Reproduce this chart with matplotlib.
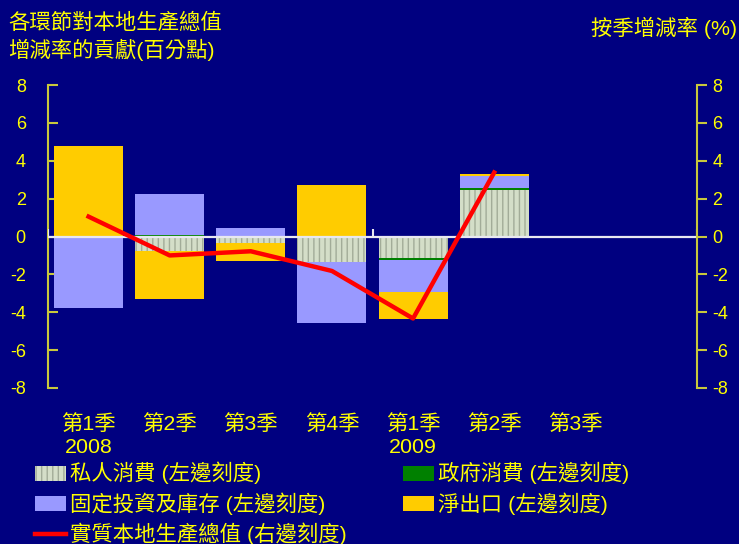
import numpy as np
import matplotlib
matplotlib.use('Agg')
import matplotlib.pyplot as plt

plt.rcParams['font.family'] = ['Liberation Sans', 'Noto Sans CJK TC', 'DejaVu Sans']
plt.rcParams['hatch.linewidth'] = 1.0
plt.rcParams['axes.unicode_minus'] = False

# 數據 (百分點 / %)
quarters = ['第1季\n2008', '第2季', '第3季', '第4季', '第1季\n2009', '第2季', '第3季', '']
private_cons = [0.0, -0.77, -0.33, -1.35, -1.13, 2.47]
gov_cons = [0.0, 0.08, 0.0, 0.05, -0.10, 0.07]
invest_stock = [-3.79, 2.18, 0.47, -3.21, -1.70, 0.63]
net_exports = [4.79, -2.53, -0.97, 2.68, -1.44, 0.15]
real_gdp = [1.05, -1.00, -0.78, -1.82, -4.33, 3.38]
year_starts = [0, 4]

bg = '#000080'
axis_col = '#C8C83C'
txt_col = '#FFFF00'
fs = 15.4

fig = plt.figure(figsize=(7.39, 5.44), dpi=100, facecolor=bg)
ax = fig.add_axes([48 / 739, 1 - 388 / 544, (697 - 48) / 739, (388 - 85) / 544])
ax.set_facecolor(bg)

x = np.arange(len(private_cons))
pos_base = np.zeros(len(x))
neg_base = np.zeros(len(x))
series = [
    (private_cons, dict(color='#D4DEC8', edgecolor='#A2AC98', hatch='|||', linewidth=0), '私人消費 (左邊刻度)'),
    (gov_cons, dict(color='#008000', linewidth=0), '政府消費 (左邊刻度)'),
    (invest_stock, dict(color='#9999FF', linewidth=0), '固定投資及庫存 (左邊刻度)'),
    (net_exports, dict(color='#FFCC00', linewidth=0), '淨出口 (左邊刻度)'),
]
handles = []
for vals, style, label in series:
    v = np.array(vals)
    bottom = np.where(v >= 0, pos_base, neg_base)
    b = ax.bar(x, v, width=0.85, bottom=bottom, label=label, zorder=2, **style)
    handles.append(b)
    pos_base = pos_base + np.where(v >= 0, v, 0)
    neg_base = neg_base + np.where(v < 0, v, 0)

ax.set_xlim(-0.5, len(quarters) - 0.5)
ax.set_ylim(-8, 8)
ax.axhline(0, color='#E8E8F0', lw=1.6, zorder=3)
for ys in year_starts + [len(quarters)]:
    ax.vlines(ys - 0.5, 0, 0.37, color='#E8E8F0', lw=1.5, zorder=3)

ax.set_xticks(np.arange(len(quarters)))
ax.set_xticklabels(quarters, fontsize=fs, color=txt_col)
for t in ax.get_xticklabels():
    t.set_linespacing(1.22)
ax.tick_params(axis='x', length=0, pad=19)
ax.set_yticks(np.arange(-8, 9, 2))
ax.tick_params(axis='y', direction='in', length=7, width=1.5, color=axis_col,
               labelcolor=txt_col, labelsize=13, pad=16)
for s in ['top', 'right', 'bottom']:
    ax.spines[s].set_visible(False)
ax.spines['left'].set_color(axis_col)
ax.spines['left'].set_linewidth(1.5)

ax2 = ax.twinx()
ax2.set_ylim(-8, 8)
ax2.set_yticks(np.arange(-8, 9, 2))
line, = ax2.plot(np.arange(len(real_gdp)), real_gdp, color='#FF0000', lw=3.2,
                 label='實質本地生產總值 (右邊刻度)', zorder=5)
ax2.tick_params(axis='y', direction='out', length=7, width=1.5, color=axis_col,
                labelcolor=txt_col, labelsize=13, pad=4)
for s in ['top', 'left', 'bottom']:
    ax2.spines[s].set_visible(False)
ax2.spines['right'].set_color(axis_col)
ax2.spines['right'].set_linewidth(1.5)

fig.text(8 / 739, 1 - 13 / 544, '各環節對本地生產總值', color=txt_col, fontsize=fs,
         ha='left', va='top')
fig.text(8 / 739, 1 - 39 / 544, '增減率的貢獻(百分點)', color=txt_col, fontsize=fs,
         ha='left', va='top')
fig.text(737 / 739, 1 - 28 / 544, '按季增減率 (%)', color=txt_col, fontsize=fs,
         ha='right', va='center')

leg_handles = [handles[0], handles[2], line, handles[1], handles[3]]
leg = fig.legend(handles=leg_handles, labels=[h.get_label() for h in leg_handles],
                 loc='upper left', bbox_to_anchor=(35 / 739, 1 - 462 / 544), ncol=2,
                 frameon=False, fontsize=fs, handlelength=1.45, handleheight=0.7,
                 handletextpad=0.2, columnspacing=2.62, labelspacing=0.37,
                 borderpad=0, borderaxespad=0)
for t in leg.get_texts():
    t.set_color(txt_col)

fig.savefig('out.png', dpi=100, facecolor=bg)
